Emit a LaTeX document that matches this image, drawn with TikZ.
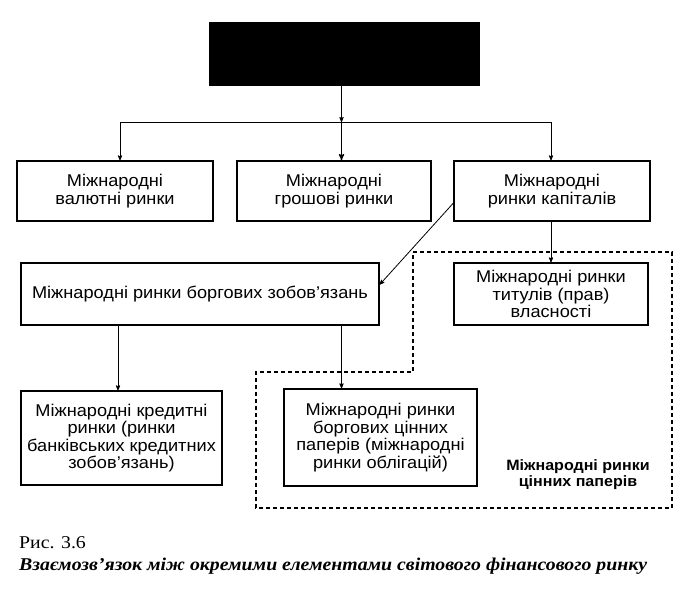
\documentclass[tikz,border=0pt]{standalone}
\usepackage{fontspec}
\setmainfont{Liberation Serif}
\setsansfont{Liberation Sans}
\newfontfamily\boxfont{Liberation Sans}[FakeStretch=1.07]
\newfontfamily\capfont{Liberation Serif}[FakeStretch=1.1]
\usetikzlibrary{arrows}

\begin{document}
\begin{tikzpicture}[x=1pt,y=-1pt,
 box/.style={draw, line width=1.4pt, align=center, inner sep=0pt, font=\boxfont\fontsize{17}{17.5}\selectfont},
 link/.style={line width=.8pt, ->, >=stealth'}]
\useasboundingbox (0,0) rectangle (700,594);
\node[fill=black, minimum width=271, minimum height=64] (fin) at (344.5,54) {};
\node[box, minimum width=196, minimum height=60] (val) at (115,191) {Міжнародні\\валютні ринки};
\node[box, minimum width=194, minimum height=60] (grosh) at (334,191) {Міжнародні\\грошові ринки};
\node[box, minimum width=196, minimum height=60] (kap) at (552,191) {Міжнародні\\ринки капіталів};
\node[box, minimum width=358, minimum height=62] (borg) at (200,294) {Міжнародні ринки боргових зобов’язань};
\node[box, minimum width=194, minimum height=62] (tyt) at (551,294) {Міжнародні ринки\\титулів (прав)\\власності};
\node[box, minimum width=201, minimum height=94] (kred) at (121.5,438) {Міжнародні кредитні\\ринки (ринки\\банківських кредитних\\зобов’язань)};
\node[box, minimum width=193, minimum height=97] (obl) at (380.5,437.5) {Міжнародні ринки\\боргових цінних\\паперів (міжнародні\\ринки облігацій)};
\node[font=\boxfont\bfseries\fontsize{15}{16}\selectfont, align=center] (cp) at (578,475) {Міжнародні ринки\\цінних паперів};
\coordinate (j) at (341.5,122);
\coordinate (jl) at (120,122);
\coordinate (jr) at (551,122);
\coordinate (a1) at (118,0);
\draw[link] (fin.south -| j) -- (j);
\draw[link, line width=1.2pt] (j) -- (j |- grosh.north);
\draw[line width=.8pt] (jl) -- (jr);
\foreach \c/\b in {jl/val, jr/kap} {
 \draw[link] (\c) -- (\c |- \b.north);
}
\draw[link] (tyt.north |- kap.south) -- (tyt.north);
\draw[link] (kap.187) -- (borg.3.5);
\draw[link] (borg.south -| a1) -- (kred.north -| a1);
\draw[link] (borg.south -| j) -- (obl.north -| j);
\draw[line width=1.2pt, dash pattern=on 4pt off 3pt] (413,252) -- (672,252) -- (672,508) -- (256,508) -- (256,372) -- (413,372) -- cycle;
\node[anchor=base west, inner sep=0, font=\capfont\fontsize{18}{20}\selectfont] (ris) at (19,548) {Рис. 3.6};
\node[anchor=base west, inner sep=0, font=\capfont\bfseries\itshape\fontsize{18}{20}\selectfont] (nazva) at (19,570) {Взаємозв’язок між окремими елементами світового фінансового ринку};
\end{tikzpicture}
\end{document}
